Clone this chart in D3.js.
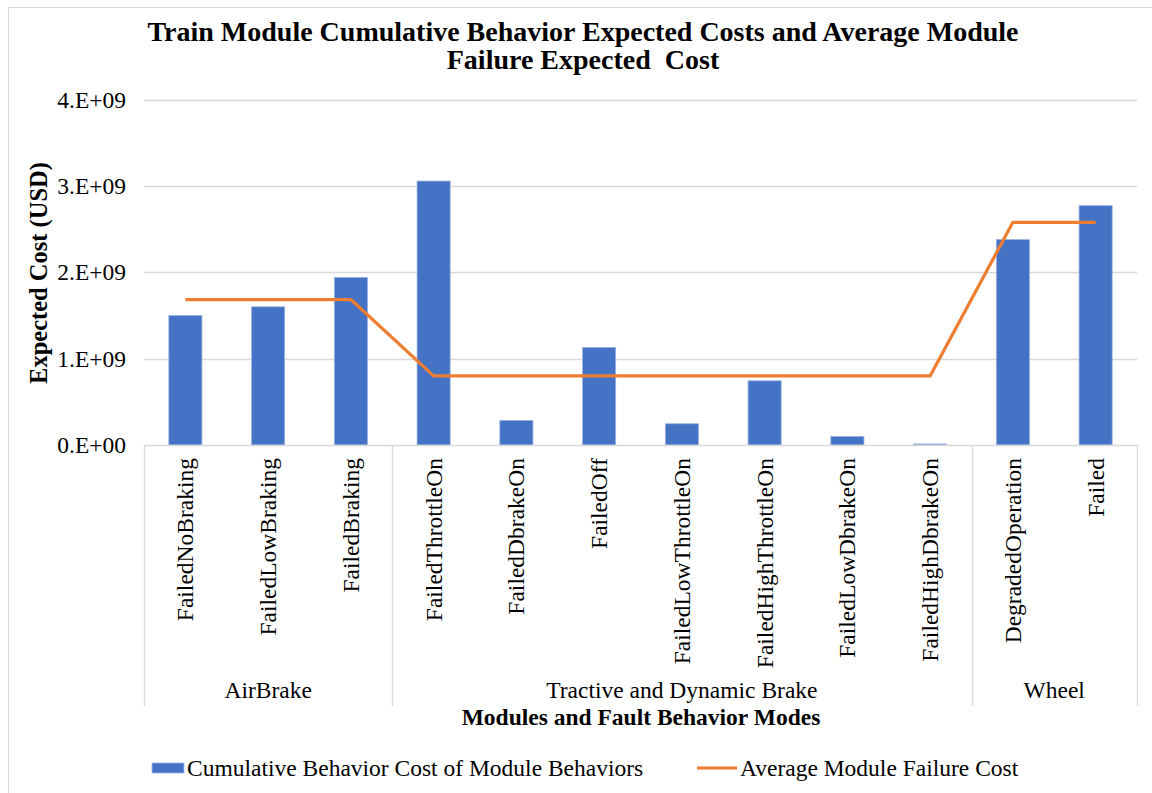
<!DOCTYPE html>
<html>
<head>
<meta charset="utf-8">
<script src="https://cdn.jsdelivr.net/npm/d3@7"></script>
<style>
  html, body { margin: 0; padding: 0; background: #fff; }
  svg text { font-family: "Liberation Serif", "Times New Roman", serif; fill: #000; }
</style>
</head>
<body>
<svg id="chart" width="1152" height="793"></svg>
<script>
// Fault behaviour modes, grouped by train module
const behaviors = [
  "FailedNoBraking", "FailedLowBraking", "FailedBraking",
  "FailedThrottleOn", "FailedDbrakeOn", "FailedOff", "FailedLowThrottleOn",
  "FailedHighThrottleOn", "FailedLowDbrakeOn", "FailedHighDbrakeOn",
  "DegradedOperation", "Failed"
];
const modules = ["AirBrake", "AirBrake", "AirBrake",
  "Tractive and Dynamic Brake", "Tractive and Dynamic Brake", "Tractive and Dynamic Brake",
  "Tractive and Dynamic Brake", "Tractive and Dynamic Brake", "Tractive and Dynamic Brake",
  "Tractive and Dynamic Brake", "Wheel", "Wheel"];
// Cumulative behaviour expected cost (USD)
const behaviorCost = [1.50e9, 1.60e9, 1.94e9, 3.056e9, 0.285e9, 1.13e9, 0.246e9,
  0.743e9, 0.10e9, 0.012e9, 2.378e9, 2.771e9];
// Average module failure expected cost (USD)
const moduleAvgCost = [1.684e9, 1.684e9, 1.684e9, 0.80e9, 0.80e9, 0.80e9, 0.80e9,
  0.80e9, 0.80e9, 0.80e9, 2.578e9, 2.578e9];
const yTicks = [0, 1e9, 2e9, 3e9, 4e9];
const yTickLabels = ["0.E+00", "1.E+09", "2.E+09", "3.E+09", "4.E+09"];

const svg = d3.select("#chart");
const m = { left: 144, right: 1137, top: 99.5, bottom: 445 };
const FS = 23.5;

// chart area frame
svg.append("rect").attr("x", 8.5).attr("y", 7.5).attr("width", 1160).attr("height", 820)
  .attr("fill", "#fff").attr("stroke", "#d9d9d9").attr("stroke-width", 1);

const x = d3.scaleBand().domain(behaviors).range([m.left, m.right]).paddingInner(0.6).paddingOuter(0.3);
const xc = d3.scaleBand().domain(behaviors).range([m.left, m.right]);
const y = d3.scaleLinear().domain([0, 4e9]).range([m.bottom, m.top]);

// horizontal gridlines
svg.append("g").selectAll("line").data(yTicks.slice(1)).join("line")
  .attr("x1", m.left).attr("x2", m.right)
  .attr("y1", d => Math.round(y(d)) + 0.5).attr("y2", d => Math.round(y(d)) + 0.5)
  .attr("stroke", "#d9d9d9").attr("stroke-width", 1.3);

// y axis tick labels
const yAxis = d3.axisLeft(y).tickValues(yTicks)
  .tickFormat((d, i) => yTickLabels[i]).tickSize(0).tickPadding(18);
const gy = svg.append("g").attr("transform", `translate(${m.left},0)`).call(yAxis);
gy.select(".domain").remove();
gy.selectAll("text").attr("font-size", FS).attr("font-family", "Liberation Serif").attr("fill", "#000");

// bars
svg.append("g").selectAll("rect").data(behaviors).join("rect")
  .attr("x", d => x(d))
  .attr("width", x.bandwidth())
  .attr("y", (d, i) => y(behaviorCost[i]))
  .attr("height", (d, i) => y(0) - y(behaviorCost[i]))
  .attr("fill", "#4472c4").attr("stroke", "#9db4e0").attr("stroke-width", 0.8);

// module average line
const line = d3.line().x((d, i) => xc(behaviors[i]) + xc.bandwidth() / 2).y(d => y(d));
svg.append("path").datum(moduleAvgCost).attr("d", line)
  .attr("fill", "none").attr("stroke", "#ed7d31").attr("stroke-width", 3.2)
  .attr("stroke-linejoin", "round");

// category axis baseline
svg.append("line").attr("x1", m.left).attr("x2", m.right)
  .attr("y1", m.bottom + 0.5).attr("y2", m.bottom + 0.5)
  .attr("stroke", "#d9d9d9").attr("stroke-width", 1.3);

// behaviour labels (rotated)
svg.append("g").selectAll("text").data(behaviors).join("text")
  .attr("transform", d => `translate(${xc(d) + xc.bandwidth() / 2 + 8},458) rotate(-90)`)
  .attr("text-anchor", "end").attr("font-size", FS)
  .text(d => d);

// module groups: dividers and labels
const groups = d3.groups(behaviors.map((b, i) => ({ b, mod: modules[i] })), d => d.mod);
const dividerX = [m.left];
groups.forEach(([name, items]) => {
  const x0 = xc(items[0].b), x1 = xc(items[items.length - 1].b) + xc.bandwidth();
  dividerX.push(x1);
  svg.append("text").attr("x", (x0 + x1) / 2).attr("y", 698)
    .attr("text-anchor", "middle").attr("font-size", FS).text(name);
});
svg.append("g").selectAll("line").data(dividerX).join("line")
  .attr("x1", d => Math.round(d) + 0.5).attr("x2", d => Math.round(d) + 0.5)
  .attr("y1", m.bottom).attr("y2", 706)
  .attr("stroke", "#d9d9d9").attr("stroke-width", 1.3);

// titles
svg.append("text").attr("x", 583).attr("y", 41).attr("text-anchor", "middle")
  .attr("font-size", 28).attr("font-weight", "bold")
  .text("Train Module Cumulative Behavior Expected Costs and Average Module");
svg.append("text").attr("x", 583).attr("y", 69).attr("text-anchor", "middle")
  .attr("font-size", 28).attr("font-weight", "bold")
  .text("Failure Expected\u00a0 Cost");
svg.append("text").attr("transform", "translate(47,273) rotate(-90)")
  .attr("text-anchor", "middle").attr("font-size", 24.5).attr("font-weight", "bold")
  .text("Expected Cost (USD)");
svg.append("text").attr("x", 641).attr("y", 725).attr("text-anchor", "middle")
  .attr("font-size", FS).attr("font-weight", "bold")
  .text("Modules and Fault Behavior Modes");

// legend
const lg = svg.append("g");
lg.append("rect").attr("x", 152).attr("y", 763).attr("width", 32).attr("height", 10)
  .attr("fill", "#4472c4").attr("stroke", "#9db4e0").attr("stroke-width", 0.8);
lg.append("text").attr("x", 187).attr("y", 776).attr("font-size", FS)
  .text("Cumulative Behavior Cost of Module Behaviors");
lg.append("line").attr("x1", 697).attr("x2", 737).attr("y1", 768).attr("y2", 768)
  .attr("stroke", "#ed7d31").attr("stroke-width", 3.2);
lg.append("text").attr("x", 740).attr("y", 776).attr("font-size", FS)
  .text("Average Module Failure Cost");
</script>
</body>
</html>
